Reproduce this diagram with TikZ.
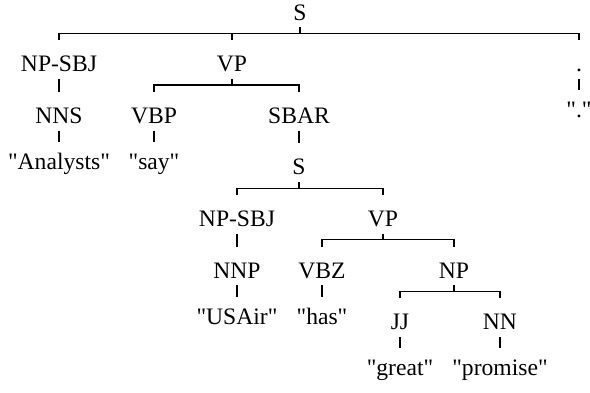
\documentclass[tikz,border=0pt]{standalone}
\usepackage{fontspec}
\setmainfont{Liberation Serif}[Ligatures=TeXOff]

\tikzset{
  tag/.style={anchor=base, inner sep=0pt, text height=15.5pt, text depth=3.5pt,
    font=\fontsize{11.8}{14}\selectfont},
  word/.style={tag, text height=13.5pt},
  branch/.style={line width=0.55pt}
}

\begin{document}
\begin{tikzpicture}[x=0.5pt,y=-0.5pt]
	\useasboundingbox (0,0) rectangle (590,392);

	\node[tag] (s0) at (300,20) {S};
	\node[tag] (np1) at (59,71.6) {NP-SBJ};
	\node[tag] (vp1) at (232,71.6) {VP};
	\node[tag] (dot1) at (579,71.6) {.};
	\node[tag] (nns2) at (59,123.2) {NNS};
	\node[tag] (vbp2) at (154,123.2) {VBP};
	\node[tag] (sbar2) at (299,123.2) {SBAR};
	\node[word] (dotw) at (579,117.6) {"."};
	\node[word] (analysts) at (59,169) {"Analysts"};
	\node[word] (say) at (154,169) {"say"};
	\node[tag] (s3) at (299,174.8) {S};
	\node[tag] (np4) at (237,226.4) {NP-SBJ};
	\node[tag] (vp4) at (383,226.4) {VP};
	\node[tag] (nnp5) at (237,278) {NNP};
	\node[tag] (vbz5) at (322,278) {VBZ};
	\node[tag] (np5) at (454,278) {NP};
	\node[word] (usair) at (237,324) {"USAir"};
	\node[word] (has) at (322,324) {"has"};
	\node[tag] (jj6) at (400,329.6) {JJ};
	\node[tag] (nn6) at (500,329.6) {NN};
	\node[word] (great) at (400,375.6) {"great"};
	\node[word] (promise) at (500,375.6) {"promise"};

	\draw[branch] (s0.south) -- ++(0,6) coordinate (j0);
	\draw[branch] (np1.north) |- (j0) -| (dot1.north);
	\draw[branch] (vp1.north) -- (vp1.north |- j0);

	\draw[branch] (vp1.south) -- ++(0,6) coordinate (j1);
	\draw[branch] (vbp2.north) |- (j1) -| (sbar2.north);

	\draw[branch] (s3.south) -- ++(0,6) coordinate (j3);
	\draw[branch] (np4.north) |- (j3) -| (vp4.north);

	\draw[branch] (vp4.south) -- ++(0,6) coordinate (j4);
	\draw[branch] (vbz5.north) |- (j4) -| (np5.north);

	\draw[branch] (np5.south) -- ++(0,6) coordinate (j5);
	\draw[branch] (jj6.north) |- (j5) -| (nn6.north);

	\foreach \p/\c in {np1/nns2, nns2/analysts, vbp2/say, dot1/dotw, sbar2/s3,
		np4/nnp5, nnp5/usair, vbz5/has, jj6/great, nn6/promise}
		\draw[branch] (\p.south) -- (\c.north) (\p.south) ++(-1,6) -- ++(2,0);
\end{tikzpicture}
\end{document}
